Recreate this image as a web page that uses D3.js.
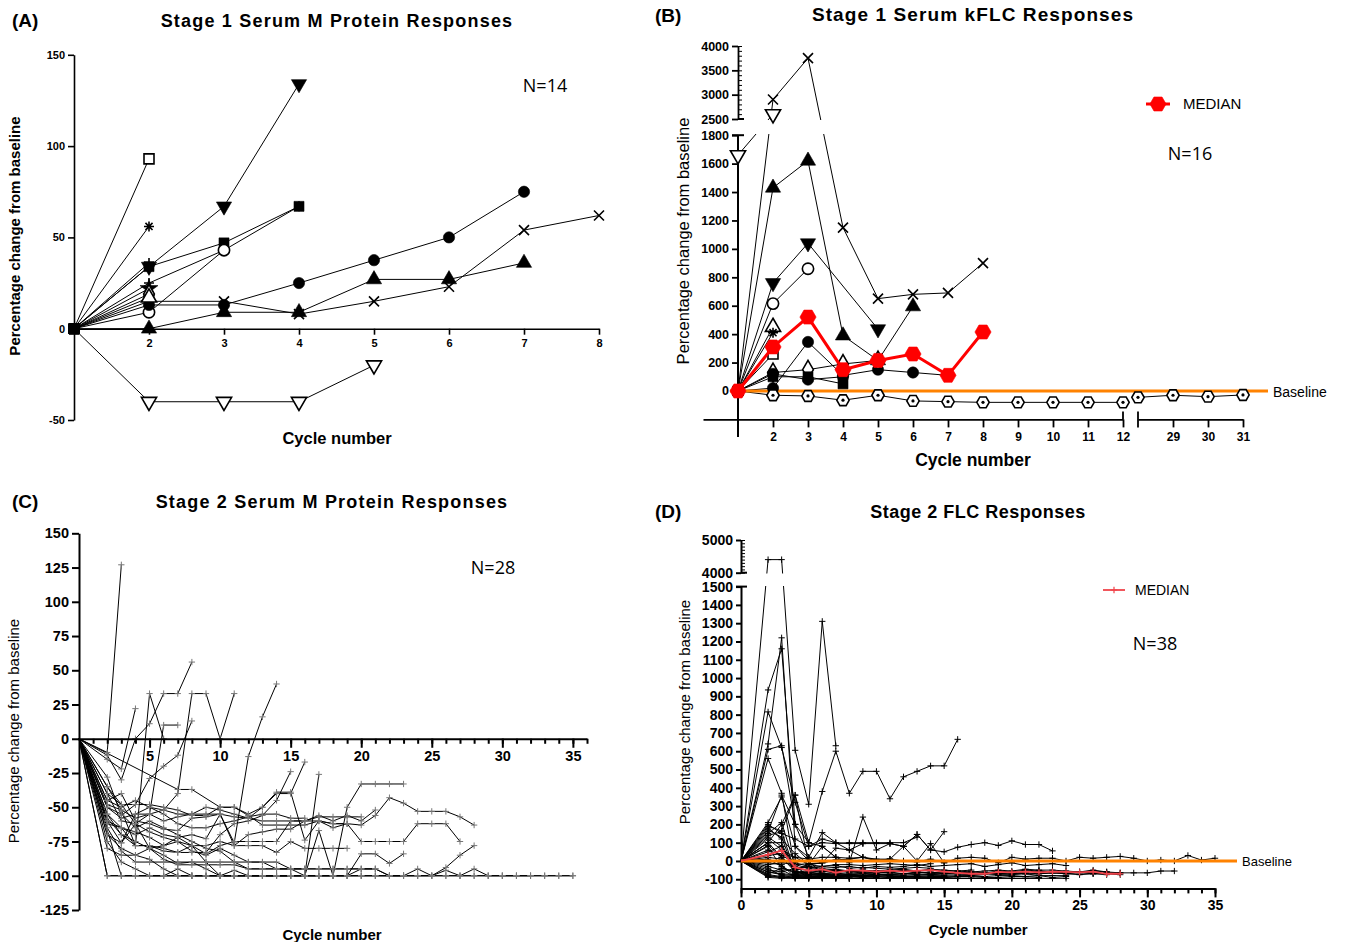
<!DOCTYPE html>
<html>
<head>
<meta charset="utf-8">
<script src="https://cdn.jsdelivr.net/npm/d3@7"></script>
<style>
  body { margin: 0; background: #fff; }
</style>
</head>
<body>
<div id="chart"></div>
<script>
// ---------------- data ----------------

// (A) Stage 1 serum M protein, % change from baseline by cycle
var cyclesA = [2, 3, 4, 5, 6, 7, 8];
var yTicksA = [-50, 0, 50, 100, 150];
var markersA = ["squareOpen", "asterisk", "triDown", "square", "plus", "circleOpen", "circle",
                "times", "triUp", "triDownOpen", "star", "diamondOpen", "triUpOpen", "plus"];
var seriesA = [
  [[1,0],[2,93]],
  [[1,0],[2,56]],
  [[1,0],[2,34],[3,67],[4,134]],
  [[1,0],[2,34],[3,47],[4,67]],
  [[1,0],[2,25],[3,43],[4,67]],
  [[1,0],[2,9],[3,43]],
  [[1,0],[2,13],[3,13],[4,25],[5,37.5],[6,50],[7,75]],
  [[1,0],[2,15],[3,15],[4,8],[5,15],[6,23],[7,54],[8,62]],
  [[1,0],[2,0],[3,9],[4,9],[5,27],[6,27],[7,36]],
  [[1,0],[2,-40],[3,-40],[4,-40],[5,-20]],
  [[1,0],[2,22]],
  [[1,0],[2,19]],
  [[1,0],[2,17]],
  [[1,0],[2,36]]
];

// (B) Stage 1 serum kFLC, % change from baseline by cycle (broken axes)
var cyclesB1 = [2, 3, 4, 5, 6, 7, 8, 9, 10, 11, 12];
var cyclesB2 = [29, 30, 31];
var yTicksBLow = [0, 200, 400, 600, 800, 1000, 1200, 1400, 1600, 1800];
var yTicksBHigh = [2500, 3000, 3500, 4000];
var markersB = ["times", "triDownOpen", "triUp", "triDown", "circleOpen", "triUpOpen", "asterisk",
                "squareOpen", "circle", "diamondOpen", "square", "circle", "hexDot", "hexDot"];
var seriesB = [
  [[1,0],[2,2900],[3,3750],[4,1150],[5,650],[6,680],[7,690],[8,900]],
  [[1,1660],[2,2600]],
  [[1,0],[2,1430],[3,1620],[4,390],[5,215],[6,595]],
  [[1,0],[2,760],[3,1040],[5,435]],
  [[1,0],[2,615],[3,860]],
  [[1,0],[2,450]],
  [[1,0],[2,410]],
  [[1,0],[2,260]],
  [[1,0],[2,20],[3,345],[4,110],[5,150],[6,130],[7,110]],
  [[1,0],[2,130],[3,150],[4,190],[5,215]],
  [[1,0],[2,100],[3,100],[4,50]],
  [[1,0],[2,120],[3,80],[4,100]],
  [[1,0],[2,-30],[3,-35],[4,-65],[5,-30],[6,-70],[7,-75],[8,-80],[9,-80],[10,-80],[11,-80],[12,-80]],
  [[28,-45],[29,-30],[30,-40],[31,-28]]
];
var medianB = [[1,0],[2,310],[3,520],[4,150],[5,215],[6,260],[7,110],[8,415]];

// (C) Stage 2 serum M protein, % change from baseline by cycle
var yTicksC = [-125, -100, -75, -50, -25, 0, 25, 50, 75, 100, 125, 150];
var xTicksC = [5, 10, 15, 20, 25, 30, 35];
var seriesC = [
  [[0,0],[2,-10],[3,127]],
  [[0,0],[2,-15],[3,-22],[4,22]],
  [[0,0],[2,-12],[3,-30],[4,0],[5,11],[6,33],[7,33],[8,56]],
  [[0,0],[2,-35],[3,-52],[4,-78],[5,33],[6,0]],
  [[0,0],[2,-40],[3,-60],[4,-62],[5,-55],[6,10],[7,10]],
  [[0,0],[2,-28],[3,-56],[4,-48],[5,-29],[6,-20],[7,-12],[8,13]],
  [[0,0],[2,-45],[3,-50],[4,-45],[5,-50],[6,-52],[7,-40],[8,33],[9,33],[10,0],[11,33]],
  [[0,0],[7,-37],[8,-37],[10,-50],[11,-50],[12,-55],[13,-50],[14,-39],[15,-39],[16,-74],[17,-60],[18,-62],[19,-62]],
  [[0,0],[2,-50],[3,-58],[4,-55],[5,-55],[6,-60],[7,-57],[8,-55],[9,-55],[10,-55],[11,-76],[12,-13],[13,16],[14,40]],
  [[0,0],[2,-35],[3,-48],[4,-48],[5,-48],[6,-50],[7,-52],[8,-56],[9,-56],[10,-50],[11,-50],[12,-56],[13,-63],[14,-63],[15,-63],[16,-63],[17,-60],[18,-65],[19,-62],[20,-63],[21,-56],[22,-43],[23,-47],[24,-53],[25,-53],[26,-53],[27,-57],[28,-63]],
  [[0,0],[2,-60],[3,-65],[4,-68],[5,-72],[6,-78],[7,-72],[8,-70],[9,-73],[10,-55],[11,-78],[12,-70],[13,-68],[14,-66],[15,-66],[16,-60],[17,-60],[18,-62],[19,-62],[20,-75],[21,-75],[22,-75],[23,-75],[24,-62],[25,-62],[26,-62],[27,-75]],
  [[0,0],[2,-55],[3,-70],[4,-78],[5,-78],[6,-82],[7,-83],[8,-78],[9,-78],[10,-75],[11,-78],[12,-78],[13,-78],[14,-83],[15,-75],[16,-80],[17,-80],[18,-80],[19,-80]],
  [[0,0],[2,-65],[3,-82],[4,-90],[5,-90],[6,-90],[7,-90],[8,-90],[9,-90],[10,-90],[11,-90],[12,-95],[13,-95],[14,-95],[15,-95],[16,-95],[17,-95],[18,-95],[19,-95],[20,-95],[21,-95],[22,-100],[23,-100],[24,-95],[25,-100],[26,-96],[27,-100],[28,-95],[29,-100],[30,-100],[31,-100],[32,-100],[33,-100],[34,-100],[35,-100]],
  [[0,0],[2,-100],[3,-100],[4,-100],[5,-100],[6,-100],[7,-100],[8,-100],[9,-100],[10,-100],[11,-100],[12,-100],[13,-100],[14,-100],[15,-100],[16,-100],[17,-100],[18,-100],[19,-100],[20,-100],[21,-100],[22,-100],[23,-100],[24,-100],[25,-100],[26,-100],[27,-100],[28,-100],[29,-100],[30,-100],[31,-100],[32,-100]],
  [[0,0],[3,-100],[4,-100],[5,-100],[6,-100],[7,-100],[8,-100],[9,-100],[10,-100],[11,-100],[12,-100],[13,-100],[14,-100],[15,-100],[16,-100],[17,-67],[18,-100],[19,-50],[20,-33],[21,-33],[22,-33],[23,-33]],
  [[0,0],[2,-75],[3,-90],[4,-95],[5,-100],[6,-100],[7,-95],[8,-100],[9,-100],[10,-100],[11,-100],[12,-100],[13,-100],[14,-100],[15,-100],[16,-100],[17,-26]],
  [[0,0],[2,-70],[3,-80],[4,-85],[5,-80],[6,-88],[7,-92],[8,-92],[9,-92],[10,-92],[11,-92],[12,-95],[13,-95],[14,-95],[15,-95],[16,-100],[17,-100],[18,-100],[19,-100],[20,-84],[21,-84],[22,-91],[23,-84]],
  [[0,0],[2,-60],[3,-76],[4,-62],[5,-80],[6,-85],[7,-91],[8,-90],[9,-95],[10,-100],[11,-96],[12,-100],[13,-100],[14,-100],[15,-100],[16,-100],[17,-100],[18,-100],[19,-100],[20,-100],[21,-100],[22,-100],[23,-100],[24,-100],[25,-100],[26,-94],[27,-85],[28,-78]],
  [[0,0],[2,-100],[3,-100],[4,-100],[5,-100],[6,-100],[7,-100],[8,-100],[9,-100],[10,-100],[11,-100],[12,-100],[13,-100],[14,-100],[15,-100],[16,-100],[17,-100],[18,-100],[19,-100],[20,-100],[21,-100],[22,-100],[23,-100],[24,-100],[25,-100],[26,-100],[27,-100],[28,-100],[29,-100],[30,-100],[31,-100],[32,-100],[33,-100],[34,-100],[35,-100]],
  [[0,0],[2,-55],[3,-65],[4,-70],[5,-65],[6,-70],[7,-72],[8,-78],[9,-84],[10,-78],[11,-75],[12,-75],[13,-75],[14,-75],[15,-60],[16,-60],[17,-57],[18,-57],[19,-57],[20,-57]],
  [[0,0],[2,-50],[3,-55],[4,-65],[5,-60],[6,-65],[7,-70],[8,-75],[9,-80],[10,-82],[11,-90],[12,-90],[13,-90],[14,-95],[15,-95],[16,-95],[17,-95],[18,-95],[19,-95],[20,-95],[21,-95]],
  [[0,0],[2,-62],[3,-65],[4,-78],[5,-78],[6,-80],[7,-83],[8,-83],[9,-83],[10,-70],[11,-62],[12,-60],[13,-56],[14,-45],[15,-24]],
  [[0,0],[2,-48],[3,-52],[4,-58],[5,-55],[6,-52],[7,-55],[8,-55],[9,-50],[10,-52],[11,-55],[12,-58],[13,-50],[14,-40],[15,-40],[16,-17]],
  [[0,0],[2,-70],[3,-76],[4,-55],[5,-50],[6,-55],[7,-62],[8,-65],[9,-65],[10,-62],[11,-60],[12,-57],[13,-55],[14,-55],[15,-58],[16,-58]],
  [[0,0],[2,-80],[3,-85],[4,-85],[5,-88],[6,-95],[7,-100],[8,-100],[9,-100],[10,-100],[11,-100],[12,-100],[13,-100],[14,-100],[15,-100],[16,-100],[17,-100],[18,-100],[19,-100],[20,-95],[21,-95],[22,-100],[23,-100]],
  [[0,0],[2,-45],[3,-40],[4,-60],[5,-62],[6,-66],[7,-67],[8,-58],[9,-57],[10,-55],[11,-57],[12,-58],[13,-60],[14,-60],[15,-60],[16,-60],[17,-56],[18,-60],[19,-56],[20,-60],[21,-52]],
  [[0,0],[2,-58],[3,-70],[4,-75],[5,-80],[6,-78],[7,-75],[8,-82],[9,-85],[10,-80],[11,-85],[12,-90],[13,-90],[14,-90],[15,-95],[16,-95]],
  [[0,0],[2,-40],[3,-48],[4,-62],[5,-68],[6,-72],[7,-75],[8,-78],[9,-90],[10,-100],[11,-100],[12,-100],[13,-100],[14,-100],[15,-100]]
];

// (D) Stage 2 FLC, % change from baseline by cycle (broken y axis)
var yTicksDLow = [-100, 0, 100, 200, 300, 400, 500, 600, 700, 800, 900, 1000, 1100, 1200, 1300, 1400, 1500];
var yTicksDHigh = [4000, 5000];
var xTicksD = [0, 5, 10, 15, 20, 25, 30, 35];
var seriesD = [
  [[0,0],[2,4400],[3,4400],[4,605],[5,310],[6,1310],[7,630]],
  [[0,0],[2,100],[3,200],[4,360],[5,100],[6,380],[7,600],[8,370],[9,490],[10,490],[11,340],[12,460],[13,490],[14,520],[15,520],[16,665]],
  [[0,0],[2,935],[3,1160],[4,200],[5,20]],
  [[0,0],[2,815],[3,620],[4,320],[5,80],[6,120],[7,100],[8,60],[9,95]],
  [[0,0],[2,640],[3,1220],[4,80],[5,20],[6,155],[7,100],[8,95],[9,95],[10,95],[11,95],[12,80],[13,145],[14,60],[15,50],[16,75],[17,90],[18,100],[19,85],[20,110],[21,90],[22,90],[23,55]],
  [[0,0],[2,610],[3,630],[4,200],[5,100],[6,80],[7,20],[8,-10],[9,240],[10,60],[11,95],[12,80],[13,0],[14,95],[15,-10]],
  [[0,0],[2,560],[3,370],[4,-50],[5,-20],[6,-10],[7,70],[8,60],[9,20],[10,0],[11,10],[12,80],[13,145],[14,60],[15,160]],
  [[0,0],[2,210],[3,350],[4,80],[5,0],[6,-70],[7,-60],[8,-60]],
  [[0,0],[2,190],[3,165],[4,360],[5,-20],[6,80],[7,20]],
  [[0,0],[2,170],[3,130],[4,-70],[5,-60],[6,-70],[7,-80],[8,-80],[9,-80],[10,-80]],
  [[0,0],[2,150],[3,210],[4,-30],[5,-80],[6,-60],[7,-50],[8,-60],[9,-50],[10,-60],[11,-60],[12,-55],[13,-60]],
  [[0,0],[2,130],[3,80],[4,-50],[5,-90],[6,-90],[7,-90],[8,-85],[9,-85],[10,-90]],
  [[0,0],[2,100],[3,100],[4,-80],[5,-80],[6,-85],[7,-80],[8,-85],[9,-80],[10,-85],[11,-80],[12,-80],[13,-85],[14,-80],[15,-80],[16,-85],[17,-80],[18,-85]],
  [[0,0],[2,85],[3,20],[4,-60],[5,-70],[6,-75],[7,-75],[8,-70],[9,-70],[10,-75],[11,-70],[12,-70],[13,-75],[14,-75],[15,-70],[16,-70],[17,-75],[18,-70],[19,-75],[20,-75],[21,-70],[22,-80],[23,-80],[24,-80]],
  [[0,0],[2,-80],[3,-90],[4,-90],[5,-90],[6,-90],[7,-90],[8,-95],[9,-90],[10,-95],[11,-90],[12,-90],[13,-90],[14,-90],[15,-90],[16,-95],[17,-95],[18,-95]],
  [[0,0],[2,-90],[3,-95],[4,-95],[5,-95],[6,-95],[7,-95],[8,-95],[9,-95],[10,-95],[11,-95],[12,-95]],
  [[0,0],[2,-70],[3,-40],[4,-60],[5,-55],[6,-60],[7,-50],[8,-55],[9,-60],[10,-55],[11,-60],[12,-50],[13,-55],[14,-45],[15,-50],[16,-55],[17,-60],[18,-55],[19,-50],[20,-55],[21,-45],[22,-50],[23,-50],[24,-55],[25,-60],[26,-50],[27,-60],[28,-65]],
  [[0,0],[2,-20],[3,-10],[4,-20],[5,-15],[6,-10],[7,5],[8,10],[9,20],[10,5],[11,10],[12,0],[13,-5],[14,10],[15,-10],[16,15],[17,20],[18,15],[19,-10],[20,20],[21,10],[22,15],[23,15],[24,0],[25,20],[26,15],[27,20],[28,25],[29,15],[30,0],[31,5],[32,0],[33,30],[34,5],[35,15]],
  [[0,0],[2,-60],[3,-70],[4,-75],[5,-70],[6,-75],[7,-70],[8,-75],[9,-70],[10,-70],[11,-75],[12,-70],[13,-70],[14,-75],[15,-70],[16,-70],[17,-70],[18,-65],[19,-70],[20,-70],[21,-65],[22,-70],[23,-65],[24,-70],[25,-65],[26,-70],[27,-65],[28,-65],[29,-65],[30,-65],[31,-55],[32,-55]],
  [[0,0],[2,-85],[3,-90],[4,-80],[5,-85],[6,-85],[7,-85],[8,-80],[9,-85],[10,-80],[11,-85],[12,-85],[13,-80],[14,-85],[15,-85],[16,-80],[17,-80],[18,-85],[19,-80],[20,-80],[21,-85],[22,-80],[23,-90],[24,-85]],
  [[0,0],[2,-50],[3,-60],[4,-40],[5,-30],[6,-40],[7,-35],[8,-30],[9,-40],[10,-30],[11,-35],[12,-30],[13,-20],[14,-30],[15,-25],[16,-20],[17,-15],[18,-30],[19,-20],[20,-10],[21,-25],[22,-20],[23,-15],[24,-25]],
  [[0,0],[2,30],[3,40],[4,20],[5,-20],[6,-30],[7,-25],[8,-40],[9,-35],[10,-40],[11,-45],[12,-40],[13,-35],[14,-40]],
  [[0,0],[2,200],[3,150],[4,120],[5,80],[6,100],[7,95],[8,100],[9,100],[10,100],[11,100],[12,100],[13,130]],
  [[0,0],[2,120],[3,60],[4,20],[5,10],[6,20],[7,20],[8,15],[9,20],[10,10],[11,10]],
  [[0,0],[2,60],[3,30],[4,-10],[5,-30],[6,-50],[7,-55],[8,-60],[9,-65],[10,-65],[11,-60],[12,-70],[13,-65],[14,-60],[15,-70],[16,-70],[17,-75],[18,-70],[19,-70],[20,-65],[21,-70],[22,-70],[23,-65],[24,-70],[25,-75],[26,-70],[27,-75]],
  [[0,0],[2,-30],[3,-50],[4,-85],[5,-90],[6,-90],[7,-95],[8,-95],[9,-95],[10,-95],[11,-95],[12,-95],[13,-95],[14,-95],[15,-95],[16,-95],[17,-95],[18,-95],[19,-95],[20,-95],[21,-95],[22,-95]],
  [[0,0],[2,10],[3,-30],[4,-70],[5,-75],[6,-80],[7,-80],[8,-75],[9,-80],[10,-75],[11,-80]],
  [[0,0],[2,180],[3,120],[4,40],[5,-20],[6,-10],[7,5]],
  [[0,0],[2,-40],[3,-80],[4,-85],[5,-88],[6,-88],[7,-88],[8,-88]],
  [[0,0],[2,80],[3,-40],[4,-60],[5,-65],[6,-70],[7,-65],[8,-75],[9,-70],[10,-75],[11,-75],[12,-70],[13,-60],[14,-70],[15,-65],[16,-60],[17,-65],[18,-70],[19,-60],[20,-65],[21,-60],[22,-55],[23,-60],[24,-65],[25,-60],[26,-55],[27,-60]],
  [[0,0],[2,50],[3,80],[4,-20],[5,-40],[6,-50],[7,-45],[8,-55],[9,-50],[10,-55],[11,-50],[12,-45],[13,-55],[14,-50],[15,-55],[16,-55],[17,-50]],
  [[0,0],[2,140],[3,160],[4,-60],[5,-75],[6,-80],[7,-85],[8,-85]],
  [[0,0],[2,20],[3,10],[4,-45],[5,-50],[6,-55],[7,-60],[8,-55],[9,-60],[10,-65],[11,-60],[12,-55],[13,-60],[14,-65],[15,-60],[16,-65],[17,-60],[18,-65],[19,-55],[20,-60],[21,-50],[22,-55],[23,-60],[24,-65],[25,-60],[26,-65],[27,-70],[28,-75]],
  [[0,0],[2,-10],[3,-20],[4,-90],[5,-95],[6,-90],[7,-90],[8,-95],[9,-95],[10,-95]],
  [[0,0],[2,160],[3,360],[4,200]],
  [[0,0],[2,-60],[3,-75],[4,-80],[5,-85],[6,-80],[7,-85],[8,-80],[9,-85],[10,-85],[11,-90],[12,-85],[13,-85],[14,-90],[15,-90],[16,-85],[17,-85],[18,-90],[19,-90],[20,-85],[21,-85],[22,-90]],
  [[0,0],[2,-75],[3,-85],[4,-95],[5,-95],[6,-95],[7,-95],[8,-95],[9,-95],[10,-95],[11,-95],[12,-95],[13,-95],[14,-95],[15,-95],[16,-95],[17,-95],[18,-95],[19,-95],[20,-95],[21,-95],[22,-95],[23,-95],[24,-95]],
  [[0,0],[2,100],[3,20],[4,-40],[5,-35],[6,-30],[7,-20],[8,-20],[9,-25],[10,-20],[11,-15],[12,-20],[13,-25],[14,-15]]
];
var medianD = [[0,0],[2,35],[3,57],[4,-35],[5,-53],[6,-46],[7,-64],[8,-50],[9,-53],[10,-58],[11,-53],[12,-58],[13,-53],[14,-50],[15,-58],[16,-65],[17,-70],[18,-70],[19,-60],[20,-62],[21,-58],[22,-62],[23,-58],[24,-60],[25,-62],[26,-58],[27,-70],[28,-70]];

// ---------------- setup ----------------
var FONT = "'Liberation Sans', Arial, sans-serif";
var NFONT = "'Open Sans', 'Noto Sans', sans-serif";
var ORANGE = "#ff8200";
// plain integer tick labels with a hyphen minus, no thousands separator
var fmt = function(d) { return String(d); };

var svg = d3.select("#chart")
  .append("svg")
    .attr("width", 1346)
    .attr("height", 942)
    .style("background", "#fff");

// custom symbols
var plusSym = { draw: function(c, s) { var r = Math.sqrt(s) / 2; c.moveTo(-r, 0); c.lineTo(r, 0); c.moveTo(0, -r); c.lineTo(0, r); } };
var timesSym = { draw: function(c, s) { var r = Math.sqrt(s) / 2; c.moveTo(-r, -r); c.lineTo(r, r); c.moveTo(r, -r); c.lineTo(-r, r); } };
var asteriskSym = { draw: function(c, s) {
  var r = Math.sqrt(s) / 2;
  for (var i = 0; i < 4; i++) {
    var a = Math.PI / 4 * i;
    c.moveTo(-r * Math.cos(a), -r * Math.sin(a)); c.lineTo(r * Math.cos(a), r * Math.sin(a));
  }
} };
var hexSym = { draw: function(c, s) {
  var r = Math.sqrt(s / 2.598);
  for (var i = 0; i < 6; i++) {
    var a = Math.PI / 3 * i;
    if (i === 0) c.moveTo(r * Math.cos(a), r * Math.sin(a)); else c.lineTo(r * Math.cos(a), r * Math.sin(a));
  }
  c.closePath();
} };

var markerStyles = {
  square:      { type: d3.symbolSquare,   mode: "fill" },
  squareOpen:  { type: d3.symbolSquare,   mode: "open" },
  circle:      { type: d3.symbolCircle,   mode: "fill" },
  circleOpen:  { type: d3.symbolCircle,   mode: "open" },
  triUp:       { type: d3.symbolTriangle, mode: "fill" },
  triUpOpen:   { type: d3.symbolTriangle, mode: "open" },
  triDown:     { type: d3.symbolTriangle, mode: "fill", rot: true },
  triDownOpen: { type: d3.symbolTriangle, mode: "open", rot: true },
  diamondOpen: { type: d3.symbolDiamond,  mode: "open" },
  star:        { type: d3.symbolStar,     mode: "fill" },
  times:       { type: timesSym,    mode: "stroke" },
  plus:        { type: plusSym,     mode: "stroke" },
  asterisk:    { type: asteriskSym, mode: "stroke" },
  hexDot:      { type: hexSym,      mode: "open", dot: true },
  hex:         { type: hexSym,      mode: "fill" }
};

function marker(g, name, x, y, size, color, sw) {
  var s = markerStyles[name];
  var p = g.append("path")
    .attr("d", d3.symbol().type(s.type).size(size)())
    .attr("transform", "translate(" + x + "," + y + ")" + (s.rot ? " rotate(180)" : ""));
  if (s.mode === "fill") p.style("fill", color).style("stroke", color).style("stroke-width", 0.6);
  else if (s.mode === "open") p.style("fill", "#fff").style("stroke", color).style("stroke-width", sw || 1.6);
  else p.style("fill", "none").style("stroke", color).style("stroke-width", sw || 1.6);
  if (s.dot) g.append("circle").attr("cx", x).attr("cy", y).attr("r", 1.6).style("fill", color);
}

function label(x, y, str, size, weight, anchor, family, spacing) {
  return svg.append("text")
    .attr("x", x).attr("y", y)
    .attr("text-anchor", anchor || "start")
    .style("font-family", family || FONT)
    .style("font-size", size + "px")
    .style("font-weight", weight || "normal")
    .style("letter-spacing", (spacing || 0) + "px")
    .style("fill", "#000")
    .text(str);
}

function ylabel(x, y, str, size, weight) {
  svg.append("text")
    .attr("transform", "translate(" + x + "," + y + ") rotate(-90)")
    .attr("text-anchor", "middle")
    .style("font-family", FONT)
    .style("font-size", size + "px")
    .style("font-weight", weight || "normal")
    .text(str);
}

function styleAxis(g, size, width) {
  g.attr("font-family", FONT).attr("font-size", size).attr("font-weight", "bold");
  g.selectAll("path, line").style("stroke", "#000").style("stroke-width", width);
  g.selectAll("text").style("fill", "#000");
}

function vline(x, y1, y2, w) {
  svg.append("line").attr("x1", x).attr("x2", x).attr("y1", y1).attr("y2", y2)
    .style("stroke", "#000").style("stroke-width", w || 1.5);
}
function hline(y, x1, x2, w, color) {
  svg.append("line").attr("x1", x1).attr("x2", x2).attr("y1", y).attr("y2", y)
    .style("stroke", color || "#000").style("stroke-width", w || 1.5);
}

// ================= Panel A =================
var xA = d3.scaleLinear().domain([1, 8]).range([74, 599]);
var yA = d3.scaleLinear().domain([-50, 150]).range([420, 54.8]);

label(12, 27, "(A)", 19, "bold");
label(337, 27, "Stage 1 Serum M Protein Responses", 18, "bold", "middle", null, 1.2);
label(545, 92, "N=14", 18, "normal", "middle", NFONT);
ylabel(20, 236, "Percentage change from baseline", 15, "bold");
label(337, 444, "Cycle number", 16.5, "bold", "middle");

var gA = svg.append("g");
var lineA = d3.line().x(function(d) { return xA(d[0]); }).y(function(d) { return yA(d[1]); });
seriesA.forEach(function(s) {
  gA.append("path").datum(s).attr("d", lineA)
    .style("fill", "none").style("stroke", "#000").style("stroke-width", 1);
});

svg.append("g")
  .attr("transform", "translate(" + xA(1) + ",0)")
  .call(d3.axisLeft(yA).tickValues(yTicksA).tickFormat(fmt).tickSize(6).tickSizeOuter(0).tickPadding(3))
  .call(function(g) { styleAxis(g, 11, 1.6); });
svg.append("g")
  .attr("transform", "translate(0," + yA(0) + ")")
  .call(d3.axisBottom(xA).tickValues(cyclesA).tickFormat(fmt).tickSize(6).tickSizeOuter(0).tickPadding(5))
  .call(function(g) { styleAxis(g, 11, 1.6); });

var mA = svg.append("g");
seriesA.forEach(function(s, i) {
  s.forEach(function(d) {
    marker(mA, d[0] === 1 ? "square" : markersA[i], xA(d[0]), yA(d[1]), 100, "#000");
  });
});

// ================= Panel B =================
var xB1 = d3.scaleLinear().domain([0, 12]).range([703, 1123]);
var xB2 = d3.scaleLinear().domain([28, 31]).range([1138, 1243]);
var yBLow = d3.scaleLinear().domain([-200, 1800]).range([419.4, 135.2]);
var yBHigh = d3.scaleLinear().domain([2500, 4000]).range([119, 46]);
function xB(c) { return c >= 28 ? xB2(c) : xB1(c); }
function yB(v) { return v > 2100 ? yBHigh(v) : yBLow(v); }

label(655, 22, "(B)", 19, "bold");
label(973, 21, "Stage 1 Serum kFLC Responses", 19, "bold", "middle", null, 1.1);
label(1190, 160, "N=16", 18, "normal", "middle", NFONT);
ylabel(689, 241, "Percentage change from baseline", 16.5, "normal");
label(973, 466, "Cycle number", 17.5, "bold", "middle");

var lineB = d3.line().x(function(d) { return xB(d[0]); }).y(function(d) { return yB(d[1]); });
var gB = svg.append("g");
seriesB.forEach(function(s) {
  gB.append("path").datum(s).attr("d", lineB)
    .style("fill", "none").style("stroke", "#000").style("stroke-width", 1);
});
// axis break: blank band between 1800 and 2500
svg.append("rect").attr("x", 739).attr("y", 120).attr("width", 300).attr("height", 14).style("fill", "#fff");

// y axes (lower + upper segment)
svg.append("g")
  .attr("transform", "translate(" + xB1(1) + ",0)")
  .call(d3.axisLeft(yBLow).tickValues(yTicksBLow).tickFormat(fmt).tickSize(6).tickSizeOuter(0).tickPadding(3))
  .call(function(g) { g.select(".domain").remove(); styleAxis(g, 12.5, 1.8); });
vline(xB1(1), yBLow(1800), 437, 2);
hline(yBLow(1800), xB1(1) - 6, xB1(1) + 6, 2);
svg.append("g")
  .attr("transform", "translate(" + xB1(1) + ",0)")
  .call(d3.axisLeft(yBHigh).tickValues(yTicksBHigh).tickFormat(fmt).tickSize(6).tickSizeOuter(0).tickPadding(3))
  .call(function(g) { styleAxis(g, 12.5, 1.8); });
svg.append("g")
  .attr("transform", "translate(" + xB1(1) + ",0)")
  .call(d3.axisRight(yBHigh).tickValues(d3.range(2500, 4001, 100)).tickSize(4).tickFormat(""))
  .call(function(g) { g.select(".domain").remove(); styleAxis(g, 10, 1); });
hline(yBHigh(2500), xB1(1), xB1(1) + 6, 2);

// x axes (two segments)
svg.append("g")
  .attr("transform", "translate(0," + yBLow(-200) + ")")
  .call(d3.axisBottom(xB1).tickValues(cyclesB1).tickFormat(fmt).tickSize(8).tickSizeOuter(0).tickPadding(5))
  .call(function(g) { styleAxis(g, 12, 1.8); });
vline(xB1(12), yBLow(-200) - 8, yBLow(-200), 1.8);
svg.append("g")
  .attr("transform", "translate(0," + yBLow(-200) + ")")
  .call(d3.axisBottom(xB2).tickValues(cyclesB2).tickFormat(fmt).tickSize(8).tickSizeOuter(0).tickPadding(5))
  .call(function(g) { styleAxis(g, 12, 1.8); });
vline(xB2(28), yBLow(-200) - 8, yBLow(-200) + 8, 1.8);

// baseline
hline(yBLow(0), 730, 1268, 3, ORANGE);
label(1273, 397, "Baseline", 14, "normal");

// markers, median on top
var mB = svg.append("g");
seriesB.forEach(function(s, i) {
  s.forEach(function(d) {
    var name = (d[0] === 1 && d[1] === 0) ? "square" : markersB[i];
    marker(mB, name, xB(d[0]), yB(d[1]), 100, "#000");
  });
});
svg.append("path").datum(medianB).attr("d", lineB)
  .style("fill", "none").style("stroke", "#ff0000").style("stroke-width", 3);
medianB.forEach(function(d) { marker(mB, "hex", xB(d[0]), yB(d[1]), 170, "#ff0000"); });

// legend
hline(104, 1146, 1170, 3, "#ff0000");
marker(svg, "hex", 1158, 104, 170, "#ff0000");
label(1183, 109, "MEDIAN", 15, "normal");

// ================= Panel C =================
var xC = d3.scaleLinear().domain([0, 36]).range([79, 587]);
var yC = d3.scaleLinear().domain([-125, 150]).range([910, 533.3]);

label(12, 508, "(C)", 19, "bold");
label(332, 508, "Stage 2 Serum M Protein Responses", 18, "bold", "middle", null, 1.2);
label(493, 574, "N=28", 18, "normal", "middle", NFONT);
ylabel(19, 731, "Percentage change from baseline", 15, "normal");
label(332, 940, "Cycle number", 15, "bold", "middle");

var lineC = d3.line().x(function(d) { return xC(d[0]); }).y(function(d) { return yC(d[1]); });
var gC = svg.append("g");
seriesC.forEach(function(s) {
  gC.append("path").datum(s).attr("d", lineC)
    .style("fill", "none").style("stroke", "#000").style("stroke-width", 1);
});
seriesC.forEach(function(s) {
  s.forEach(function(d) {
    if (d[0] > 0) marker(gC, "plus", xC(d[0]), yC(d[1]), 40, "#777", 1);
  });
});

svg.append("g")
  .attr("transform", "translate(" + xC(0) + ",0)")
  .call(d3.axisLeft(yC).tickValues(yTicksC).tickFormat(fmt).tickSize(7).tickSizeOuter(0).tickPadding(3))
  .call(function(g) { styleAxis(g, 14.5, 2); });
svg.append("g")
  .attr("transform", "translate(0," + yC(0) + ")")
  .call(d3.axisBottom(xC).tickValues(d3.range(1, 37)).tickSize(5).tickSizeOuter(0).tickFormat(""))
  .call(function(g) { styleAxis(g, 14, 2); });
svg.append("g")
  .attr("transform", "translate(0," + yC(0) + ")")
  .call(d3.axisBottom(xC).tickValues(xTicksC).tickFormat(fmt).tickSize(9).tickSizeOuter(0).tickPadding(3))
  .call(function(g) { g.select(".domain").remove(); styleAxis(g, 14.5, 2); });

// ================= Panel D =================
var xD = d3.scaleLinear().domain([0, 35]).range([741, 1215]);
var yDLow = d3.scaleLinear().domain([-150, 1500]).range([888.4, 586.6]);
var yDHigh = d3.scaleLinear().domain([4000, 5000]).range([572.7, 540]);
function yD(v) { return v > 2500 ? yDHigh(v) : yDLow(v); }

label(655, 518, "(D)", 19, "bold");
label(978, 518, "Stage 2 FLC Responses", 18, "bold", "middle", null, 0.5);
label(1155, 650, "N=38", 18, "normal", "middle", NFONT);
ylabel(690, 712, "Percentage change from baseline", 15, "normal");
label(978, 935, "Cycle number", 15, "bold", "middle");

var lineD = d3.line().x(function(d) { return xD(d[0]); }).y(function(d) { return yD(d[1]); });
var gD = svg.append("g");
seriesD.forEach(function(s) {
  gD.append("path").datum(s).attr("d", lineD)
    .style("fill", "none").style("stroke", "#000").style("stroke-width", 1);
});
seriesD.forEach(function(s) {
  s.forEach(function(d) {
    if (d[0] > 0) marker(gD, "plus", xD(d[0]), yD(d[1]), 40, "#000", 1);
  });
});
// axis break band between 1500 and 4000
svg.append("rect").attr("x", 742).attr("y", 573.5).attr("width", 480).attr("height", 12.5).style("fill", "#fff");

svg.append("g")
  .attr("transform", "translate(" + xD(0) + ",0)")
  .call(d3.axisLeft(yDLow).tickValues(yTicksDLow).tickFormat(fmt).tickSize(5).tickSizeOuter(0).tickPadding(3))
  .call(function(g) { styleAxis(g, 14, 2); });
hline(yDLow(1500), xD(0) - 5, xD(0) + 6, 2);
svg.append("g")
  .attr("transform", "translate(" + xD(0) + ",0)")
  .call(d3.axisLeft(yDHigh).tickValues(yTicksDHigh).tickFormat(fmt).tickSize(5).tickSizeOuter(0).tickPadding(3))
  .call(function(g) { styleAxis(g, 14, 2); });
svg.append("g")
  .attr("transform", "translate(" + xD(0) + ",0)")
  .call(d3.axisRight(yDHigh).tickValues(d3.range(4000, 5001, 100)).tickSize(4).tickFormat(""))
  .call(function(g) { g.select(".domain").remove(); styleAxis(g, 10, 1); });
hline(yDHigh(4000), xD(0), xD(0) + 6, 2);

svg.append("g")
  .attr("transform", "translate(0," + yDLow(-150) + ")")
  .call(d3.axisBottom(xD).tickValues(d3.range(0, 36)).tickSize(5).tickSizeOuter(0).tickFormat(""))
  .call(function(g) { styleAxis(g, 14, 2); });
svg.append("g")
  .attr("transform", "translate(0," + yDLow(-150) + ")")
  .call(d3.axisBottom(xD).tickValues(xTicksD).tickFormat(fmt).tickSize(9).tickSizeOuter(0).tickPadding(3))
  .call(function(g) { g.select(".domain").remove(); styleAxis(g, 14, 2); });

// baseline and median
hline(yDLow(0), xD(0), 1237, 3, ORANGE);
label(1242, 866, "Baseline", 13, "normal");
svg.append("path").datum(medianD).attr("d", lineD)
  .style("fill", "none").style("stroke", "#f0434a").style("stroke-width", 1.8);
medianD.forEach(function(d) {
  if (d[0] > 0) marker(svg, "plus", xD(d[0]), yD(d[1]), 40, "#f0434a", 1.2);
});

// legend
hline(590, 1103, 1125, 1.8, "#f0434a");
marker(svg, "plus", 1114, 590, 40, "#f0434a", 1.2);
label(1135, 595, "MEDIAN", 14, "normal");
</script>
</body>
</html>
